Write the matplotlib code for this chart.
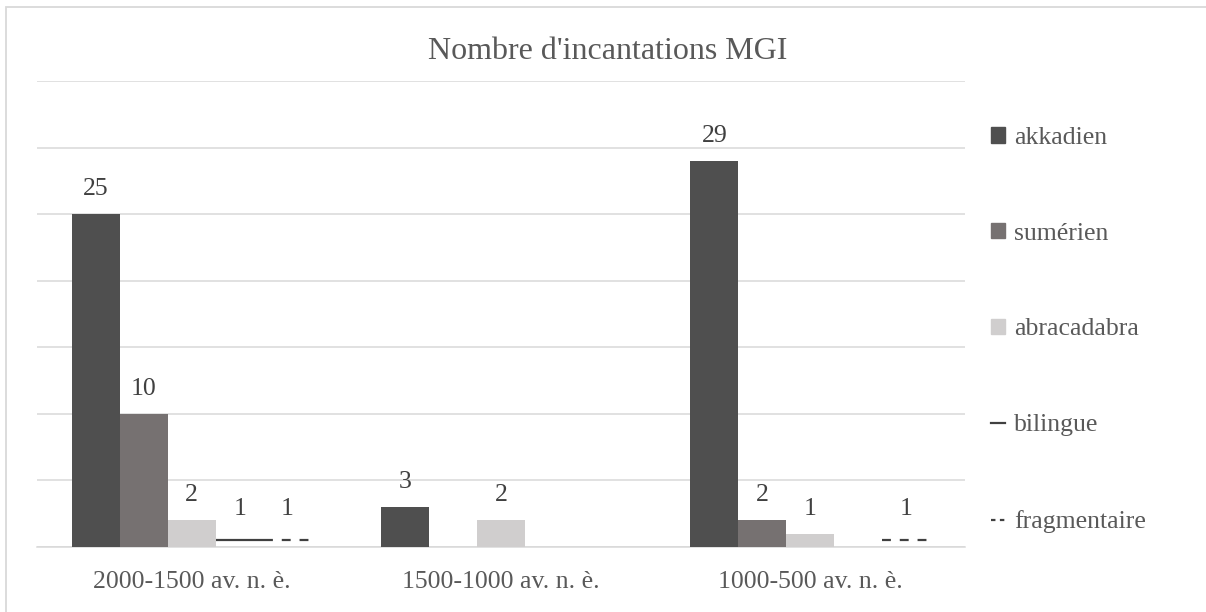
import matplotlib
matplotlib.use("Agg")
import matplotlib.pyplot as plt
import numpy as np
from matplotlib.patches import Patch, Rectangle
from matplotlib.lines import Line2D

plt.rcParams['font.family'] = ['Liberation Serif', 'DejaVu Serif']

categories = ["2000-1500 av. n. è.", "1500-1000 av. n. è.", "1000-500 av. n. è."]
series = ["akkadien", "sumérien", "abracadabra", "bilingue", "fragmentaire"]
akkadien = [25, 3, 29]
sumerien = [10, 0, 2]
abracadabra = [2, 2, 1]
bilingue = [1, 0, 0]
fragmentaire = [1, 0, 1]

values = [akkadien, sumerien, abracadabra, bilingue, fragmentaire]
colors = ["#4f4f4f", "#767171", "#d0cece", "#404040", "#404040"]
txt = "#595959"

fig = plt.figure(figsize=(12.06, 6.12), dpi=100)
ax = fig.add_axes([37 / 1206, 1 - 547 / 612, (965 - 37) / 1206, (547 - 81) / 612])

x = np.arange(len(categories))
w = 0.155
for i, (name, vals) in enumerate(zip(series, values)):
    pos = x + (i - 2) * w
    vals = np.array(vals)
    if i < 3:
        ax.bar(pos, vals, w, color=colors[i], zorder=3)
    else:
        # these two series show up only as a thin line inside the bar
        ls = "-" if i == 3 else (0, (4, 4))
        for p, v in zip(pos, vals):
            if v > 0:
                ax.hlines(v / 2, p - w / 2, p + w / 2, color=colors[i],
                          lw=1.6, linestyle=ls, zorder=3)
    for p, v in zip(pos, vals):
        if v > 0:
            ax.annotate(str(v), (p, v), xytext=(0, 10), textcoords="offset points",
                        ha="center", va="bottom", fontsize=18.5, color="#404040")

ax.set_xlim(-0.5, 2.5)
ax.set_ylim(0, 35)
ax.set_yticks(np.arange(0, 36, 5))
ax.set_yticklabels([])
ax.tick_params(axis="y", length=0)
ax.set_xticks(x)
ax.set_xticklabels(categories, fontsize=18.5, color=txt)
ax.tick_params(axis="x", length=0, pad=17)
ax.grid(axis="y", color="#d9d9d9", lw=1.1, zorder=0)
for s in ["left", "right", "top"]:
    ax.spines[s].set_visible(False)
ax.spines["bottom"].set_color("#d9d9d9")
ax.spines["bottom"].set_linewidth(1.1)

fig.text(0.504, 0.916, "Nombre d'incantations MGI", ha="center", va="center",
         fontsize=23, color=txt)

handles = [Patch(color=colors[0]), Patch(color=colors[1]), Patch(color=colors[2]),
           Line2D([], [], color=colors[3], lw=1.6),
           Line2D([], [], color=colors[4], lw=1.6, linestyle=(0, (2, 2)))]
fig.legend(handles, series, loc="upper left", bbox_to_anchor=(991 / 1206, 1 - 127 / 612),
           frameon=False, fontsize=18.5, labelcolor=txt, handlelength=0.55,
           handleheight=0.55, handletextpad=0.35, labelspacing=2.87, borderpad=0,
           borderaxespad=0)

fig.add_artist(Rectangle((6 / 1206, -0.05), 1.2, 1 - 7 / 612 + 0.05,
                         transform=fig.transFigure, fill=False,
                         edgecolor="#d9d9d9", lw=1.3))

fig.savefig("out.png", dpi=100)
